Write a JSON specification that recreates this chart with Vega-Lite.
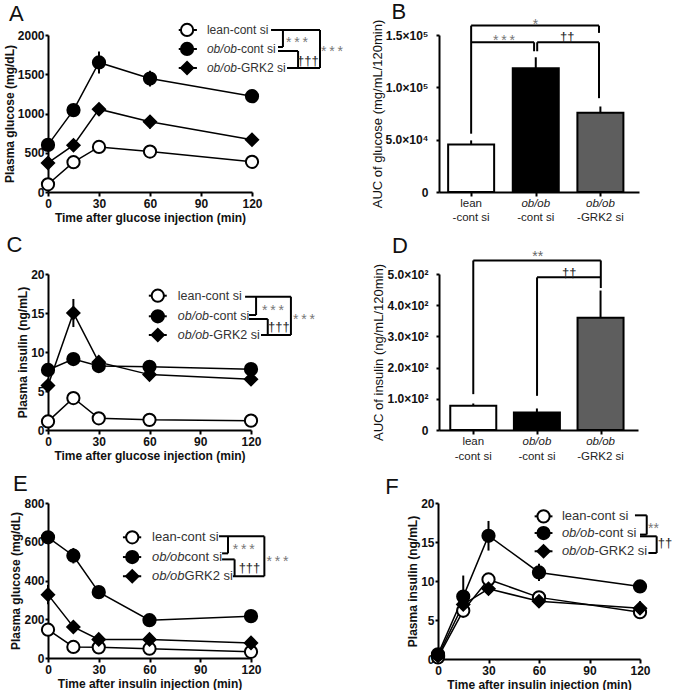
{
"$schema":"https://vega.github.io/schema/vega-lite/v6.json",
"background":"white",
"padding":{"left":3,"top":0,"right":0,"bottom":0},
"config":{
 "view":{"stroke":null},
 "font":"Liberation Sans",
 "axis":{"domainColor":"#000","domainWidth":2,"tickColor":"#000","tickWidth":2,"grid":false,"labelFont":"Liberation Sans","labelFontWeight":"bold","labelFontSize":12,"labelColor":"#111","titleFont":"Liberation Sans","titleFontWeight":"bold","titleFontSize":12,"titleColor":"#111","labelFlush":false,"labelOverlap":false},
 "axisX":{"tickSize":4,"labelPadding":2,"titlePadding":3},
 "axisY":{"tickSize":3,"labelPadding":1,"titlePadding":1}
},
"datasets":{
 "A":[{"t":0,"g":"lean","m":98,"se":15},{"t":15,"g":"lean","m":380,"se":25},{"t":30,"g":"lean","m":574,"se":30},{"t":60,"g":"lean","m":515,"se":25},{"t":120,"g":"lean","m":385,"se":25},
  {"t":0,"g":"ob","m":600,"se":40},{"t":15,"g":"ob","m":1043,"se":45},{"t":30,"g":"ob","m":1650,"se":140},{"t":60,"g":"ob","m":1445,"se":100},{"t":120,"g":"ob","m":1220,"se":40},
  {"t":0,"g":"grk2","m":370,"se":40},{"t":15,"g":"grk2","m":596,"se":30},{"t":30,"g":"grk2","m":1055,"se":55},{"t":60,"g":"grk2","m":895,"se":85},{"t":120,"g":"grk2","m":665,"se":30}],
 "Aleg":[{"g":"lean","x":81.8,"x1":76.9,"x2":87.6,"y":2064},{"g":"ob","x":81.8,"x1":76.9,"x2":87.6,"y":1822},{"g":"grk2","x":81.8,"x1":76.9,"x2":87.6,"y":1580}],
 "Atxt":[{"x":93.5,"y":2064,"t":"lean-cont si","st":"n"},{"x":93.5,"y":1822,"t":"ob/ob","st":"i"},{"x":93.5,"y":1822,"t":"-cont si","st":"s"},{"x":93.5,"y":1580,"t":"ob/ob","st":"i"},{"x":93.5,"y":1580,"t":"-GRK2 si","st":"s"}],
 "Alab":[{"x":146.5,"y":1949,"t":"*\u2009*\u2009*","k":"a"},{"x":152.9,"y":1669,"t":"†††","k":"d"},{"x":167.1,"y":1834,"t":"*\u2009*\u2009*","k":"a"}],
 "Aseg":[{"x1":131.2,"x2":160,"y1":2064,"y2":2064},{"x1":138.2,"x2":138.2,"y1":2064,"y2":1847},{"x1":135.3,"x2":138.2,"y1":1847,"y2":1847},{"x1":135.3,"x2":147.1,"y1":1796,"y2":1796},{"x1":147.1,"x2":147.1,"y1":1796,"y2":1580},{"x1":140.6,"x2":160,"y1":1580,"y2":1580},{"x1":160,"x2":160,"y1":2064,"y2":1580}],
 "B":[{"pos":0,"g":"lean","m":45500,"top":49300},{"pos":1,"g":"ob","m":118200,"top":128700},{"pos":2,"g":"grk2","m":75600,"top":81700}],
 "Bseg":[{"x1":0,"x2":1.978,"y1":158960,"y2":158960},{"x1":0,"x2":0,"y1":158960,"y2":55700},{"x1":1.978,"x2":1.978,"y1":158960,"y2":152000},{"x1":0,"x2":0.974,"y1":143040,"y2":143040},{"x1":0.974,"x2":0.974,"y1":143040,"y2":134460},{"x1":1.022,"x2":1.978,"y1":143040,"y2":143040},{"x1":1.022,"x2":1.022,"y1":143040,"y2":134460},{"x1":1.978,"x2":1.978,"y1":143040,"y2":89640}],
 "Blab":[{"x":0.997,"y":163070,"t":"*","k":"a"},{"x":0.507,"y":148480,"t":"*\u2009*\u2009*","k":"a"},{"x":1.488,"y":148480,"t":"††","k":"d"}],
 "cat":[{"pos":0,"t":"lean","ln":1,"st":"n"},{"pos":0,"t":"-cont si","ln":2,"st":"n"},{"pos":1,"t":"ob/ob","ln":1,"st":"i"},{"pos":1,"t":"-cont si","ln":2,"st":"n"},{"pos":2,"t":"ob/ob","ln":1,"st":"i"},{"pos":2,"t":"-GRK2 si","ln":2,"st":"n"}],
 "C":[{"t":0,"g":"lean","m":1.1,"se":0.3},{"t":15,"g":"lean","m":4.1,"se":0.4},{"t":30,"g":"lean","m":1.5,"se":0.2},{"t":60,"g":"lean","m":1.3,"se":0.2},{"t":120,"g":"lean","m":1.2,"se":0.2},
  {"t":0,"g":"ob","m":7.7,"se":0.5},{"t":15,"g":"ob","m":9.1,"se":0.5},{"t":30,"g":"ob","m":8.2,"se":0.6},{"t":60,"g":"ob","m":8.1,"se":0.4},{"t":120,"g":"ob","m":7.8,"se":0.4},
  {"t":0,"g":"grk2","m":5.7,"se":0.5},{"t":15,"g":"grk2","m":15.0,"se":1.8},{"t":30,"g":"grk2","m":8.7,"se":0.7},{"t":60,"g":"grk2","m":7.1,"se":0.3},{"t":120,"g":"grk2","m":6.5,"se":0.3}],
 "Cleg":[{"g":"lean","x":64.9,"x1":59.6,"x2":70.2,"y":17.22},{"g":"ob","x":64.9,"x1":59.6,"x2":70.2,"y":14.58},{"g":"grk2","x":64.9,"x1":59.6,"x2":70.2,"y":12.18}],
 "Ctxt":[{"x":76.7,"y":17.22,"t":"lean-cont si","st":"n"},{"x":76.7,"y":14.58,"t":"ob/ob","st":"i"},{"x":76.7,"y":14.58,"t":"-cont si","st":"s"},{"x":76.7,"y":12.18,"t":"ob/ob","st":"i"},{"x":76.7,"y":12.18,"t":"-GRK2 si","st":"s"}],
 "Clab":[{"x":133.0,"y":15.81,"t":"*\u2009*\u2009*","k":"a"},{"x":136.5,"y":13.17,"t":"†††","k":"d"},{"x":151.3,"y":14.58,"t":"*\u2009*\u2009*","k":"a"}],
 "Cseg":[{"x1":116.5,"x2":143.6,"y1":17.09,"y2":17.09},{"x1":123.0,"x2":123.0,"y1":17.09,"y2":14.74},{"x1":118.8,"x2":123.0,"y1":14.74,"y2":14.74},{"x1":118.8,"x2":129.9,"y1":14.23,"y2":14.23},{"x1":129.9,"x2":129.9,"y1":14.23,"y2":12.18},{"x1":125.9,"x2":143.6,"y1":12.18,"y2":12.18},{"x1":143.6,"x2":143.6,"y1":17.09,"y2":12.18}],
 "D":[{"pos":0,"g":"lean","m":78,"top":85},{"pos":1,"g":"ob","m":56,"top":69},{"pos":2,"g":"grk2","m":360,"top":447}],
 "Dseg":[{"x1":0,"x2":2.004,"y1":543.4,"y2":543.4},{"x1":0,"x2":0,"y1":543.4,"y2":114.9},{"x1":2.004,"x2":2.004,"y1":543.4,"y2":455},{"x1":1.002,"x2":2.004,"y1":489.2,"y2":489.2},{"x1":1.002,"x2":1.002,"y1":489.2,"y2":109.5}],
 "Dlab":[{"x":1.013,"y":567,"t":"**","k":"a"},{"x":1.508,"y":503,"t":"††","k":"d"}],
 "E":[{"t":0,"g":"lean","m":146,"se":15},{"t":15,"g":"lean","m":57,"se":8},{"t":30,"g":"lean","m":55,"se":8},{"t":60,"g":"lean","m":48,"se":8},{"t":120,"g":"lean","m":32,"se":6},
  {"t":0,"g":"ob","m":623,"se":20},{"t":15,"g":"ob","m":528,"se":40},{"t":30,"g":"ob","m":340,"se":20},{"t":60,"g":"ob","m":195,"se":15},{"t":120,"g":"ob","m":216,"se":15},
  {"t":0,"g":"grk2","m":327,"se":50},{"t":15,"g":"grk2","m":160,"se":15},{"t":30,"g":"grk2","m":96,"se":10},{"t":60,"g":"grk2","m":96,"se":10},{"t":120,"g":"grk2","m":78,"se":10}],
 "Eleg":[{"g":"lean","x":49.8,"x1":44.3,"x2":55.1,"y":623},{"g":"ob","x":49.8,"x1":44.3,"x2":55.1,"y":521},{"g":"grk2","x":49.8,"x1":44.3,"x2":55.1,"y":422}],
 "Etxt":[{"x":61.5,"y":623,"t":"lean-cont si","st":"n"},{"x":61.5,"y":521,"t":"ob/ob","st":"i"},{"x":61.5,"y":521,"t":"cont si","st":"s"},{"x":61.5,"y":422,"t":"ob/ob","st":"i"},{"x":61.5,"y":422,"t":"GRK2 si","st":"s"}],
 "Elab":[{"x":115.7,"y":576,"t":"*\u2009*\u2009*","k":"a"},{"x":119.1,"y":464,"t":"†††","k":"d"},{"x":135.6,"y":516,"t":"*\u2009*\u2009*","k":"a"}],
 "Eseg":[{"x1":101.1,"x2":127.9,"y1":628,"y2":628},{"x1":106.4,"x2":106.4,"y1":628,"y2":540},{"x1":102.9,"x2":106.4,"y1":540,"y2":540},{"x1":102.9,"x2":110.3,"y1":509,"y2":509},{"x1":110.3,"x2":110.3,"y1":509,"y2":422},{"x1":109.3,"x2":127.9,"y1":422,"y2":422},{"x1":127.9,"x2":127.9,"y1":628,"y2":422}],
 "F":[{"t":0,"g":"lean","m":0.2,"se":0.1},{"t":15,"g":"lean","m":6.2,"se":0.4},{"t":30,"g":"lean","m":10.2,"se":0.6},{"t":60,"g":"lean","m":7.9,"se":0.5},{"t":120,"g":"lean","m":6.0,"se":0.4},
  {"t":0,"g":"ob","m":0.6,"se":0.2},{"t":15,"g":"ob","m":8.0,"se":2.7},{"t":30,"g":"ob","m":15.8,"se":1.9},{"t":60,"g":"ob","m":11.1,"se":1.1},{"t":120,"g":"ob","m":9.3,"se":0.5},
  {"t":0,"g":"grk2","m":0.4,"se":0.2},{"t":15,"g":"grk2","m":7.0,"se":0.6},{"t":30,"g":"grk2","m":9.0,"se":0.8},{"t":60,"g":"grk2","m":7.4,"se":0.7},{"t":120,"g":"grk2","m":6.5,"se":0.9}],
 "Fleg":[{"g":"lean","x":62.7,"x1":57.4,"x2":68.0,"y":18.29},{"g":"ob","x":62.7,"x1":57.4,"x2":68.0,"y":16.15},{"g":"grk2","x":62.7,"x1":57.4,"x2":68.0,"y":13.81}],
 "Ftxt":[{"x":73.6,"y":18.29,"t":"lean-cont si","st":"n"},{"x":73.6,"y":16.15,"t":"ob/ob","st":"i"},{"x":73.6,"y":16.15,"t":"-cont si","st":"s"},{"x":73.6,"y":13.81,"t":"ob/ob","st":"i"},{"x":73.6,"y":13.81,"t":"-GRK2 si","st":"s"}],
 "Flab":[{"x":128.0,"y":17.14,"t":"**","k":"a"},{"x":134.8,"y":14.87,"t":"††","k":"d"}],
 "Fseg":[{"x1":117.0,"x2":124.0,"y1":18.42,"y2":18.42},{"x1":124.0,"x2":124.0,"y1":18.42,"y2":15.95},{"x1":120.0,"x2":124.0,"y1":15.95,"y2":15.95},{"x1":120.0,"x2":129.9,"y1":15.73,"y2":15.73},{"x1":129.9,"x2":129.9,"y1":15.73,"y2":13.59},{"x1":125.0,"x2":129.9,"y1":13.59,"y2":13.59}]
},
"spacing":10,
"vconcat":[
 {"hconcat":[
  {"width":204,"height":157,"layer":[
   {"data":{"name":"A"},"mark":{"type":"errorbar","color":"#000","rule":{"strokeWidth":2}},"encoding":{"x":{"field":"t","type":"quantitative","scale":{"domain":[0,120],"nice":false,"zero":false},"axis":{"values":[0,30,60,90,120],"tickCount":10,"title":"Time after glucose injection (min)"}},"y":{"field":"m","type":"quantitative","scale":{"domain":[0,2000],"nice":false},"axis":{"values":[0,500,1000,1500,2000],"tickCount":10,"format":"d","title":"Plasma glucose (mg/dL)"}},"yError":{"field":"se"}}},
   {"data":{"name":"A"},"mark":{"type":"line","color":"#000","strokeWidth":1.5},"encoding":{"x":{"field":"t","type":"quantitative"},"y":{"field":"m","type":"quantitative"},"detail":{"field":"g"}}},
   {"data":{"name":"Aseg"},"mark":{"type":"rule","color":"#000","strokeWidth":2},"encoding":{"x":{"field":"x1","type":"quantitative"},"x2":{"field":"x2"},"y":{"field":"y1","type":"quantitative"},"y2":{"field":"y2"}}},
   {"data":{"name":"Aleg"},"mark":{"type":"rule","color":"#000","strokeWidth":2},"encoding":{"x":{"field":"x1","type":"quantitative"},"x2":{"field":"x2"},"y":{"field":"y","type":"quantitative"}}},
   {"data":{"name":"A"},"mark":{"type":"point","filled":true,"stroke":"#000","strokeWidth":2,"opacity":1},"encoding":{"x":{"field":"t","type":"quantitative"},"y":{"field":"m","type":"quantitative"},"shape":{"field":"g","type":"nominal","scale":{"domain":["lean","ob","grk2"],"range":["circle","circle","diamond"]},"legend":null},"fill":{"field":"g","type":"nominal","scale":{"domain":["lean","ob","grk2"],"range":["#ffffff","#000000","#000000"]},"legend":null},"size":{"field":"g","type":"nominal","scale":{"domain":["lean","ob","grk2"],"range":[150,150,100]},"legend":null}}},
   {"data":{"name":"Aleg"},"mark":{"type":"point","filled":true,"stroke":"#000","strokeWidth":2,"opacity":1},"encoding":{"x":{"field":"x","type":"quantitative"},"y":{"field":"y","type":"quantitative"},"shape":{"field":"g","type":"nominal"},"fill":{"field":"g","type":"nominal"},"size":{"field":"g","type":"nominal"}}},
   {"data":{"name":"Atxt"},"transform":[{"filter":"datum.st=='n'"}],"mark":{"type":"text","align":"left","baseline":"middle","fontSize":12,"color":"#333"},"encoding":{"x":{"field":"x","type":"quantitative"},"y":{"field":"y","type":"quantitative"},"text":{"field":"t"}}},
   {"data":{"name":"Atxt"},"transform":[{"filter":"datum.st=='i'"}],"mark":{"type":"text","align":"left","baseline":"middle","fontSize":12,"fontStyle":"italic","color":"#333"},"encoding":{"x":{"field":"x","type":"quantitative"},"y":{"field":"y","type":"quantitative"},"text":{"field":"t"}}},
   {"data":{"name":"Atxt"},"transform":[{"filter":"datum.st=='s'"}],"mark":{"type":"text","align":"left","baseline":"middle","fontSize":12,"dx":30,"color":"#333"},"encoding":{"x":{"field":"x","type":"quantitative"},"y":{"field":"y","type":"quantitative"},"text":{"field":"t"}}},
   {"data":{"name":"Alab"},"transform":[{"filter":"datum.k=='a'"}],"mark":{"type":"text","align":"center","baseline":"middle","fontSize":14,"dy":4,"color":"#777"},"encoding":{"x":{"field":"x","type":"quantitative"},"y":{"field":"y","type":"quantitative"},"text":{"field":"t"}}},
   {"data":{"name":"Alab"},"transform":[{"filter":"datum.k=='d'"}],"mark":{"type":"text","align":"center","baseline":"middle","fontSize":13,"color":"#222"},"encoding":{"x":{"field":"x","type":"quantitative"},"y":{"field":"y","type":"quantitative"},"text":{"field":"t"}}},
   {"data":{"values":[{}]},"mark":{"type":"text","text":"A","fontSize":22,"align":"left","baseline":"alphabetic","color":"#111"},"encoding":{"x":{"datum":-22.9},"y":{"datum":2178}}}
  ]},
  {"width":200,"height":157,"layer":[
   {"data":{"name":"B"},"mark":{"type":"rule","color":"#000","strokeWidth":2},"encoding":{"x":{"field":"pos","type":"quantitative","scale":{"domain":[-0.42,2.52],"nice":false,"zero":false},"axis":{"values":[0,1,2],"tickCount":10,"labels":false,"title":null}},"y":{"field":"m","type":"quantitative","scale":{"domain":[0,150000],"nice":false},"axis":{"values":[0,50000,100000,150000],"tickCount":10,"labelExpr":"datum.value==0?'0':datum.value<100000?'5.0×10⁴':format(datum.value/100000,'.1f')+'×10⁵'","title":"AUC of glucose (mg/mL/120min)","titleFontWeight":"normal","titleFontSize":13,"labelPadding":8}},"y2":{"field":"top"}}},
   {"data":{"name":"B"},"mark":{"type":"bar","orient":"vertical","width":46,"stroke":"#000","strokeWidth":2,"opacity":1},"encoding":{"x":{"field":"pos","type":"quantitative"},"y":{"field":"m","type":"quantitative"},"color":{"field":"g","type":"nominal","scale":{"domain":["lean","ob","grk2"],"range":["#ffffff","#000000","#5e5e5e"]},"legend":null}}},
   {"data":{"name":"Bseg"},"mark":{"type":"rule","color":"#000","strokeWidth":2},"encoding":{"x":{"field":"x1","type":"quantitative"},"x2":{"field":"x2"},"y":{"field":"y1","type":"quantitative"},"y2":{"field":"y2"}}},
   {"data":{"name":"Blab"},"transform":[{"filter":"datum.k=='a'"}],"mark":{"type":"text","align":"center","baseline":"middle","fontSize":14,"dy":4,"color":"#777"},"encoding":{"x":{"field":"x","type":"quantitative"},"y":{"field":"y","type":"quantitative"},"text":{"field":"t"}}},
   {"data":{"name":"Blab"},"transform":[{"filter":"datum.k=='d'"}],"mark":{"type":"text","align":"center","baseline":"middle","fontSize":13,"color":"#222"},"encoding":{"x":{"field":"x","type":"quantitative"},"y":{"field":"y","type":"quantitative"},"text":{"field":"t"}}},
   {"data":{"name":"cat"},"transform":[{"filter":"datum.ln==1 && datum.st=='n'"}],"mark":{"type":"text","baseline":"middle","fontSize":11.5,"dy":12,"color":"#222"},"encoding":{"x":{"field":"pos","type":"quantitative"},"y":{"datum":0},"text":{"field":"t"}}},
   {"data":{"name":"cat"},"transform":[{"filter":"datum.ln==1 && datum.st=='i'"}],"mark":{"type":"text","baseline":"middle","fontSize":11.5,"fontStyle":"italic","dy":12,"color":"#222"},"encoding":{"x":{"field":"pos","type":"quantitative"},"y":{"datum":0},"text":{"field":"t"}}},
   {"data":{"name":"cat"},"transform":[{"filter":"datum.ln==2"}],"mark":{"type":"text","baseline":"middle","fontSize":11.5,"dy":26,"color":"#222"},"encoding":{"x":{"field":"pos","type":"quantitative"},"y":{"datum":0},"text":{"field":"t"}}},
   {"data":{"values":[{}]},"mark":{"type":"text","text":"B","fontSize":22,"align":"left","baseline":"alphabetic","color":"#111"},"encoding":{"x":{"datum":-1.232},"y":{"datum":165350}}}
  ]}
 ],"spacing":187,"bounds":"flush"},
 {"spacing":10,"vconcat":[
  {"hconcat":[
   {"width":203,"height":156,"layer":[
    {"data":{"name":"C"},"mark":{"type":"errorbar","color":"#000","rule":{"strokeWidth":2}},"encoding":{"x":{"field":"t","type":"quantitative","scale":{"domain":[0,120],"nice":false,"zero":false},"axis":{"values":[0,30,60,90,120],"tickCount":10,"title":"Time after glucose injection (min)"}},"y":{"field":"m","type":"quantitative","scale":{"domain":[0,20],"nice":false},"axis":{"values":[0,5,10,15,20],"tickCount":10,"format":"d","title":"Plasma insulin (ng/mL)"}},"yError":{"field":"se"}}},
    {"data":{"name":"C"},"mark":{"type":"line","color":"#000","strokeWidth":1.5},"encoding":{"x":{"field":"t","type":"quantitative"},"y":{"field":"m","type":"quantitative"},"detail":{"field":"g"}}},
    {"data":{"name":"Cseg"},"mark":{"type":"rule","color":"#000","strokeWidth":2},"encoding":{"x":{"field":"x1","type":"quantitative"},"x2":{"field":"x2"},"y":{"field":"y1","type":"quantitative"},"y2":{"field":"y2"}}},
    {"data":{"name":"Cleg"},"mark":{"type":"rule","color":"#000","strokeWidth":2},"encoding":{"x":{"field":"x1","type":"quantitative"},"x2":{"field":"x2"},"y":{"field":"y","type":"quantitative"}}},
    {"data":{"name":"C"},"mark":{"type":"point","filled":true,"stroke":"#000","strokeWidth":2,"opacity":1},"encoding":{"x":{"field":"t","type":"quantitative"},"y":{"field":"m","type":"quantitative"},"shape":{"field":"g","type":"nominal","scale":{"domain":["lean","ob","grk2"],"range":["circle","circle","diamond"]},"legend":null},"fill":{"field":"g","type":"nominal","scale":{"domain":["lean","ob","grk2"],"range":["#ffffff","#000000","#000000"]},"legend":null},"size":{"field":"g","type":"nominal","scale":{"domain":["lean","ob","grk2"],"range":[150,150,100]},"legend":null}}},
    {"data":{"name":"Cleg"},"mark":{"type":"point","filled":true,"stroke":"#000","strokeWidth":2,"opacity":1},"encoding":{"x":{"field":"x","type":"quantitative"},"y":{"field":"y","type":"quantitative"},"shape":{"field":"g","type":"nominal"},"fill":{"field":"g","type":"nominal"},"size":{"field":"g","type":"nominal"}}},
    {"data":{"name":"Ctxt"},"transform":[{"filter":"datum.st=='n'"}],"mark":{"type":"text","align":"left","baseline":"middle","fontSize":12.5,"color":"#333"},"encoding":{"x":{"field":"x","type":"quantitative"},"y":{"field":"y","type":"quantitative"},"text":{"field":"t"}}},
    {"data":{"name":"Ctxt"},"transform":[{"filter":"datum.st=='i'"}],"mark":{"type":"text","align":"left","baseline":"middle","fontSize":12.5,"fontStyle":"italic","color":"#333"},"encoding":{"x":{"field":"x","type":"quantitative"},"y":{"field":"y","type":"quantitative"},"text":{"field":"t"}}},
    {"data":{"name":"Ctxt"},"transform":[{"filter":"datum.st=='s'"}],"mark":{"type":"text","align":"left","baseline":"middle","fontSize":12.5,"dx":31.3,"color":"#333"},"encoding":{"x":{"field":"x","type":"quantitative"},"y":{"field":"y","type":"quantitative"},"text":{"field":"t"}}},
    {"data":{"name":"Clab"},"transform":[{"filter":"datum.k=='a'"}],"mark":{"type":"text","align":"center","baseline":"middle","fontSize":14,"dy":4,"color":"#777"},"encoding":{"x":{"field":"x","type":"quantitative"},"y":{"field":"y","type":"quantitative"},"text":{"field":"t"}}},
    {"data":{"name":"Clab"},"transform":[{"filter":"datum.k=='d'"}],"mark":{"type":"text","align":"center","baseline":"middle","fontSize":13,"color":"#222"},"encoding":{"x":{"field":"x","type":"quantitative"},"y":{"field":"y","type":"quantitative"},"text":{"field":"t"}}},
    {"data":{"values":[{}]},"mark":{"type":"text","text":"C","fontSize":22,"align":"left","baseline":"alphabetic","color":"#111"},"encoding":{"x":{"datum":-24.6},"y":{"datum":22.82}}}
   ]},
   {"width":199,"height":156,"layer":[
    {"data":{"name":"D"},"mark":{"type":"rule","color":"#000","strokeWidth":2},"encoding":{"x":{"field":"pos","type":"quantitative","scale":{"domain":[-0.46,2.51],"nice":false,"zero":false},"axis":{"values":[0,1,2],"tickCount":10,"labels":false,"title":null}},"y":{"field":"m","type":"quantitative","scale":{"domain":[0,500],"nice":false},"axis":{"values":[0,100,200,300,400,500],"tickCount":10,"labelExpr":"datum.value==0?'0':format(datum.value/100,'.1f')+'×10²'","title":"AUC of insulin (ng/mL/120min)","titleFontWeight":"normal","titleFontSize":13,"labelPadding":8}},"y2":{"field":"top"}}},
    {"data":{"name":"D"},"mark":{"type":"bar","orient":"vertical","width":46,"stroke":"#000","strokeWidth":2,"opacity":1},"encoding":{"x":{"field":"pos","type":"quantitative"},"y":{"field":"m","type":"quantitative"},"color":{"field":"g","type":"nominal","scale":{"domain":["lean","ob","grk2"],"range":["#ffffff","#000000","#5e5e5e"]},"legend":null}}},
    {"data":{"name":"Dseg"},"mark":{"type":"rule","color":"#000","strokeWidth":2},"encoding":{"x":{"field":"x1","type":"quantitative"},"x2":{"field":"x2"},"y":{"field":"y1","type":"quantitative"},"y2":{"field":"y2"}}},
    {"data":{"name":"Dlab"},"transform":[{"filter":"datum.k=='a'"}],"mark":{"type":"text","align":"center","baseline":"middle","fontSize":14,"dy":4,"color":"#666"},"encoding":{"x":{"field":"x","type":"quantitative"},"y":{"field":"y","type":"quantitative"},"text":{"field":"t"}}},
    {"data":{"name":"Dlab"},"transform":[{"filter":"datum.k=='d'"}],"mark":{"type":"text","align":"center","baseline":"middle","fontSize":13,"color":"#222"},"encoding":{"x":{"field":"x","type":"quantitative"},"y":{"field":"y","type":"quantitative"},"text":{"field":"t"}}},
    {"data":{"name":"cat"},"transform":[{"filter":"datum.ln==1 && datum.st=='n'"}],"mark":{"type":"text","baseline":"middle","fontSize":11.5,"dy":12,"color":"#222"},"encoding":{"x":{"field":"pos","type":"quantitative"},"y":{"datum":0},"text":{"field":"t"}}},
    {"data":{"name":"cat"},"transform":[{"filter":"datum.ln==1 && datum.st=='i'"}],"mark":{"type":"text","baseline":"middle","fontSize":11.5,"fontStyle":"italic","dy":12,"color":"#222"},"encoding":{"x":{"field":"pos","type":"quantitative"},"y":{"datum":0},"text":{"field":"t"}}},
    {"data":{"name":"cat"},"transform":[{"filter":"datum.ln==2"}],"mark":{"type":"text","baseline":"middle","fontSize":11.5,"dy":27,"color":"#222"},"encoding":{"x":{"field":"pos","type":"quantitative"},"y":{"datum":0},"text":{"field":"t"}}},
    {"data":{"values":[{}]},"mark":{"type":"text","text":"D","fontSize":22,"align":"left","baseline":"alphabetic","color":"#111"},"encoding":{"x":{"datum":-1.276},"y":{"datum":568}}}
   ]}
  ],"spacing":188,"bounds":"flush"},
  {"hconcat":[
   {"width":203,"height":155,"layer":[
    {"data":{"name":"E"},"mark":{"type":"errorbar","color":"#000","rule":{"strokeWidth":2}},"encoding":{"x":{"field":"t","type":"quantitative","scale":{"domain":[0,120],"nice":false,"zero":false},"axis":{"values":[0,30,60,90,120],"tickCount":10,"title":"Time after insulin injection (min)"}},"y":{"field":"m","type":"quantitative","scale":{"domain":[0,800],"nice":false},"axis":{"values":[0,200,400,600,800],"tickCount":10,"format":"d","title":"Plasma glucose (mg/dL)"}},"yError":{"field":"se"}}},
    {"data":{"name":"E"},"mark":{"type":"line","color":"#000","strokeWidth":1.5},"encoding":{"x":{"field":"t","type":"quantitative"},"y":{"field":"m","type":"quantitative"},"detail":{"field":"g"}}},
    {"data":{"name":"Eseg"},"mark":{"type":"rule","color":"#000","strokeWidth":2},"encoding":{"x":{"field":"x1","type":"quantitative"},"x2":{"field":"x2"},"y":{"field":"y1","type":"quantitative"},"y2":{"field":"y2"}}},
    {"data":{"name":"Eleg"},"mark":{"type":"rule","color":"#000","strokeWidth":2},"encoding":{"x":{"field":"x1","type":"quantitative"},"x2":{"field":"x2"},"y":{"field":"y","type":"quantitative"}}},
    {"data":{"name":"E"},"mark":{"type":"point","filled":true,"stroke":"#000","strokeWidth":2,"opacity":1},"encoding":{"x":{"field":"t","type":"quantitative"},"y":{"field":"m","type":"quantitative"},"shape":{"field":"g","type":"nominal","scale":{"domain":["lean","ob","grk2"],"range":["circle","circle","diamond"]},"legend":null},"fill":{"field":"g","type":"nominal","scale":{"domain":["lean","ob","grk2"],"range":["#ffffff","#000000","#000000"]},"legend":null},"size":{"field":"g","type":"nominal","scale":{"domain":["lean","ob","grk2"],"range":[150,150,100]},"legend":null}}},
    {"data":{"name":"Eleg"},"mark":{"type":"point","filled":true,"stroke":"#000","strokeWidth":2,"opacity":1},"encoding":{"x":{"field":"x","type":"quantitative"},"y":{"field":"y","type":"quantitative"},"shape":{"field":"g","type":"nominal"},"fill":{"field":"g","type":"nominal"},"size":{"field":"g","type":"nominal"}}},
    {"data":{"name":"Etxt"},"transform":[{"filter":"datum.st=='n'"}],"mark":{"type":"text","align":"left","baseline":"middle","fontSize":13,"color":"#333"},"encoding":{"x":{"field":"x","type":"quantitative"},"y":{"field":"y","type":"quantitative"},"text":{"field":"t"}}},
    {"data":{"name":"Etxt"},"transform":[{"filter":"datum.st=='i'"}],"mark":{"type":"text","align":"left","baseline":"middle","fontSize":13,"fontStyle":"italic","color":"#333"},"encoding":{"x":{"field":"x","type":"quantitative"},"y":{"field":"y","type":"quantitative"},"text":{"field":"t"}}},
    {"data":{"name":"Etxt"},"transform":[{"filter":"datum.st=='s'"}],"mark":{"type":"text","align":"left","baseline":"middle","fontSize":13,"dx":32.5,"color":"#333"},"encoding":{"x":{"field":"x","type":"quantitative"},"y":{"field":"y","type":"quantitative"},"text":{"field":"t"}}},
    {"data":{"name":"Elab"},"transform":[{"filter":"datum.k=='a'"}],"mark":{"type":"text","align":"center","baseline":"middle","fontSize":14,"dy":4,"color":"#777"},"encoding":{"x":{"field":"x","type":"quantitative"},"y":{"field":"y","type":"quantitative"},"text":{"field":"t"}}},
    {"data":{"name":"Elab"},"transform":[{"filter":"datum.k=='d'"}],"mark":{"type":"text","align":"center","baseline":"middle","fontSize":13,"color":"#222"},"encoding":{"x":{"field":"x","type":"quantitative"},"y":{"field":"y","type":"quantitative"},"text":{"field":"t"}}},
    {"data":{"values":[{}]},"mark":{"type":"text","text":"E","fontSize":22,"align":"left","baseline":"alphabetic","color":"#111"},"encoding":{"x":{"datum":-20.7},"y":{"datum":860}}}
   ]},
   {"width":202,"height":156,"layer":[
    {"data":{"name":"F"},"mark":{"type":"errorbar","color":"#000","rule":{"strokeWidth":2}},"encoding":{"x":{"field":"t","type":"quantitative","scale":{"domain":[0,120],"nice":false,"zero":false},"axis":{"values":[0,30,60,90,120],"tickCount":10,"title":"Time after insulin injection (min)"}},"y":{"field":"m","type":"quantitative","scale":{"domain":[0,20],"nice":false},"axis":{"values":[0,5,10,15,20],"tickCount":10,"format":"d","title":"Plasma insulin (ng/mL)"}},"yError":{"field":"se"}}},
    {"data":{"name":"F"},"mark":{"type":"line","color":"#000","strokeWidth":1.5},"encoding":{"x":{"field":"t","type":"quantitative"},"y":{"field":"m","type":"quantitative"},"detail":{"field":"g"}}},
    {"data":{"name":"Fseg"},"mark":{"type":"rule","color":"#000","strokeWidth":2},"encoding":{"x":{"field":"x1","type":"quantitative"},"x2":{"field":"x2"},"y":{"field":"y1","type":"quantitative"},"y2":{"field":"y2"}}},
    {"data":{"name":"Fleg"},"mark":{"type":"rule","color":"#000","strokeWidth":2},"encoding":{"x":{"field":"x1","type":"quantitative"},"x2":{"field":"x2"},"y":{"field":"y","type":"quantitative"}}},
    {"data":{"name":"F"},"mark":{"type":"point","filled":true,"stroke":"#000","strokeWidth":2,"opacity":1},"encoding":{"x":{"field":"t","type":"quantitative"},"y":{"field":"m","type":"quantitative"},"shape":{"field":"g","type":"nominal","scale":{"domain":["lean","ob","grk2"],"range":["circle","circle","diamond"]},"legend":null},"fill":{"field":"g","type":"nominal","scale":{"domain":["lean","ob","grk2"],"range":["#ffffff","#000000","#000000"]},"legend":null},"size":{"field":"g","type":"nominal","scale":{"domain":["lean","ob","grk2"],"range":[150,150,100]},"legend":null}}},
    {"data":{"name":"Fleg"},"mark":{"type":"point","filled":true,"stroke":"#000","strokeWidth":2,"opacity":1},"encoding":{"x":{"field":"x","type":"quantitative"},"y":{"field":"y","type":"quantitative"},"shape":{"field":"g","type":"nominal"},"fill":{"field":"g","type":"nominal"},"size":{"field":"g","type":"nominal"}}},
    {"data":{"name":"Ftxt"},"transform":[{"filter":"datum.st=='n'"}],"mark":{"type":"text","align":"left","baseline":"middle","fontSize":13,"color":"#333"},"encoding":{"x":{"field":"x","type":"quantitative"},"y":{"field":"y","type":"quantitative"},"text":{"field":"t"}}},
    {"data":{"name":"Ftxt"},"transform":[{"filter":"datum.st=='i'"}],"mark":{"type":"text","align":"left","baseline":"middle","fontSize":13,"fontStyle":"italic","color":"#333"},"encoding":{"x":{"field":"x","type":"quantitative"},"y":{"field":"y","type":"quantitative"},"text":{"field":"t"}}},
    {"data":{"name":"Ftxt"},"transform":[{"filter":"datum.st=='s'"}],"mark":{"type":"text","align":"left","baseline":"middle","fontSize":13,"dx":32.5,"color":"#333"},"encoding":{"x":{"field":"x","type":"quantitative"},"y":{"field":"y","type":"quantitative"},"text":{"field":"t"}}},
    {"data":{"name":"Flab"},"transform":[{"filter":"datum.k=='a'"}],"mark":{"type":"text","align":"center","baseline":"middle","fontSize":14,"dy":4,"color":"#777"},"encoding":{"x":{"field":"x","type":"quantitative"},"y":{"field":"y","type":"quantitative"},"text":{"field":"t"}}},
    {"data":{"name":"Flab"},"transform":[{"filter":"datum.k=='d'"}],"mark":{"type":"text","align":"center","baseline":"middle","fontSize":13,"color":"#222"},"encoding":{"x":{"field":"x","type":"quantitative"},"y":{"field":"y","type":"quantitative"},"text":{"field":"t"}}},
    {"data":{"values":[{}]},"mark":{"type":"text","text":"F","fontSize":22,"align":"left","baseline":"alphabetic","color":"#111"},"encoding":{"x":{"datum":-31.4},"y":{"datum":21.11}}}
   ]}
  ],"spacing":187,"bounds":"flush"}
 ]}
]
}
